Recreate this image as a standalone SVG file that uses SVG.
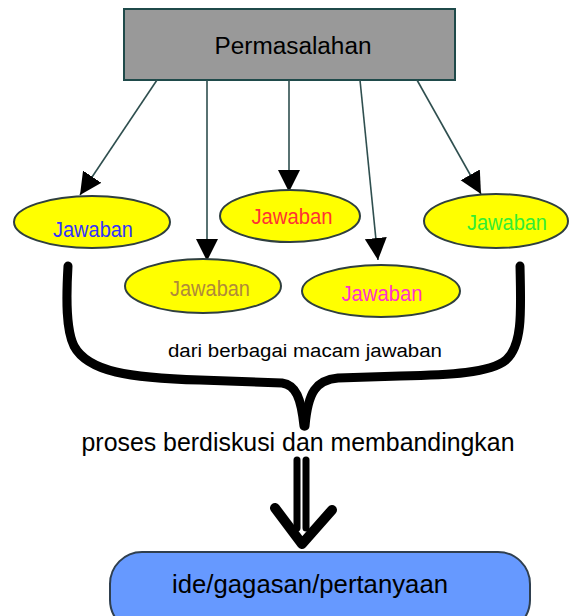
<svg xmlns="http://www.w3.org/2000/svg" width="571" height="616" viewBox="0 0 571 616">
<defs>
<marker id="ah" markerUnits="userSpaceOnUse" markerWidth="24" markerHeight="24" refX="22" refY="11" orient="auto">
<path d="M0,0 L22,11 L0,22 z" fill="#000"/>
</marker>
<style>
.conn{stroke:#2f4f4f;stroke-width:1.6;fill:none}
.ell{fill:#ffff00;stroke:#2f3f3f;stroke-width:2}
.jt{font-family:"Liberation Sans","DejaVu Sans",sans-serif;font-size:22px;text-anchor:middle}
.lbl{font-family:"Liberation Sans","DejaVu Sans",sans-serif;fill:#000;text-anchor:middle}
.thick{stroke:#000;fill:none;stroke-linecap:round;stroke-linejoin:round}
</style>
</defs>
<rect width="571" height="616" fill="#fff"/>
<g id="permasalahan">
<rect x="124" y="9" width="331" height="71" fill="#999999" stroke="#1f4a4a" stroke-width="2"/>
<text class="lbl" x="293" y="54" font-size="23" textLength="157" lengthAdjust="spacingAndGlyphs">Permasalahan</text>
</g>
<g id="connectors">
<line class="conn" x1="157" y1="80" x2="80" y2="195" marker-end="url(#ah)"/>
<line class="conn" x1="207" y1="80" x2="207" y2="261" marker-end="url(#ah)"/>
<line class="conn" x1="289" y1="80" x2="289" y2="192" marker-end="url(#ah)"/>
<line class="conn" x1="360" y1="80" x2="378" y2="260" marker-end="url(#ah)"/>
<line class="conn" x1="417" y1="80" x2="481" y2="194" marker-end="url(#ah)"/>
</g>
<g id="jawaban1">
<ellipse class="ell" cx="92" cy="222" rx="78" ry="26"/>
<text class="jt" x="93" y="237" fill="#3333ff" textLength="80" lengthAdjust="spacingAndGlyphs">Jawaban</text>
</g>
<g id="jawaban2">
<ellipse class="ell" cx="203" cy="286" rx="78" ry="27"/>
<text class="jt" x="210" y="296" fill="#b08a3a" textLength="80" lengthAdjust="spacingAndGlyphs">Jawaban</text>
</g>
<g id="jawaban3">
<ellipse class="ell" cx="290" cy="216" rx="70" ry="26"/>
<text class="jt" x="292" y="224" fill="#ff3333" textLength="81" lengthAdjust="spacingAndGlyphs">Jawaban</text>
</g>
<g id="jawaban4">
<ellipse class="ell" cx="381" cy="291" rx="79" ry="26"/>
<text class="jt" x="382" y="301" fill="#ff33cc" textLength="81" lengthAdjust="spacingAndGlyphs">Jawaban</text>
</g>
<g id="jawaban5">
<ellipse class="ell" cx="496" cy="221" rx="72" ry="27"/>
<text class="jt" x="507" y="230" fill="#33ee33" textLength="80" lengthAdjust="spacingAndGlyphs">Jawaban</text>
</g>
<g id="brace">
<path class="thick" stroke-width="9" d="M68,266 C66,300 66,330 74,346 C88,372 130,378 200,380 L282,383 C296,385 301,398 304,426"/>
<path class="thick" stroke-width="9" d="M520,266 C521,310 523,345 506,360 C490,373 450,375 400,376 L338,378 C316,380 308,392 305,426"/>
</g>
<g id="label-dari">
<text class="lbl" x="305" y="357" font-size="18" textLength="274" lengthAdjust="spacingAndGlyphs">dari berbagai macam jawaban</text>
</g>
<g id="label-proses">
<text class="lbl" x="298" y="451" font-size="26" textLength="433" lengthAdjust="spacingAndGlyphs">proses berdiskusi dan membandingkan</text>
</g>
<g id="double-arrow">
<line class="thick" stroke-width="7" x1="297" y1="460" x2="297" y2="528"/>
<line class="thick" stroke-width="7" x1="306" y1="460" x2="306" y2="528"/>
<path class="thick" stroke-width="10" stroke-linejoin="miter" d="M275,508 L302,544 L332,510"/>
</g>
<g id="ide">
<rect x="110" y="552" width="420" height="80" rx="32" ry="32" fill="#6699ff" stroke="#2f3f4f" stroke-width="2"/>
<text class="lbl" x="310" y="593" font-size="26" textLength="276" lengthAdjust="spacingAndGlyphs">ide/gagasan/pertanyaan</text>
</g>
</svg>
